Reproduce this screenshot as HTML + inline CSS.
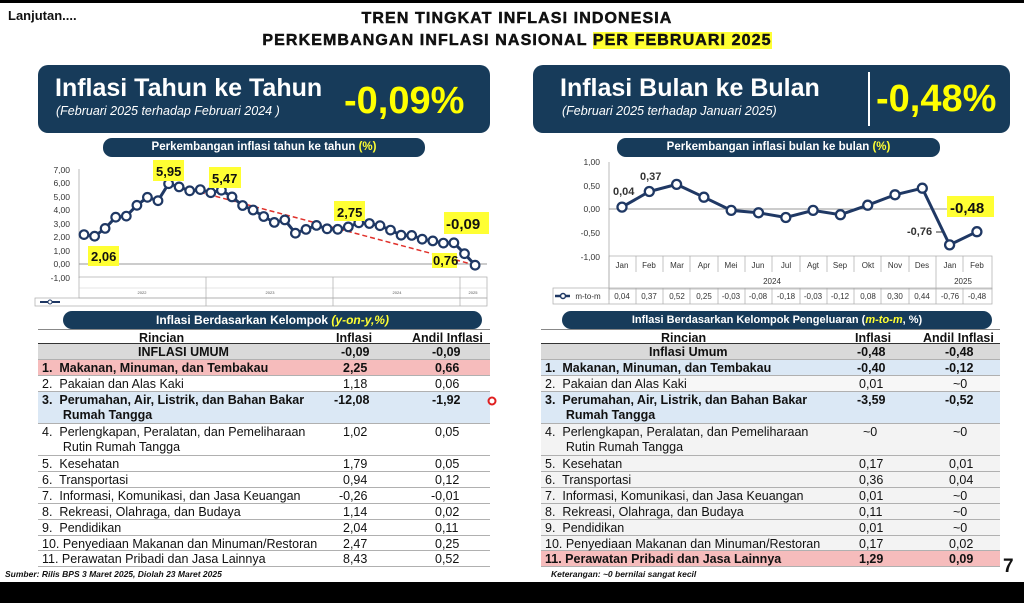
<!DOCTYPE html>
<html><head><meta charset="utf-8">
<style>
*{margin:0;padding:0;box-sizing:border-box}
body{width:1024px;height:603px;position:relative;background:#fff;font-family:"Liberation Sans",Arial,sans-serif;overflow:hidden;color:#111}
.a{position:absolute;white-space:nowrap}
.ban{position:absolute;background:#173b5a;border-radius:10px}
.pill{position:absolute;background:#173b5a;border-radius:9px;color:#fff;font-weight:bold;font-size:11.5px;text-align:center;line-height:19px}
.row{position:absolute;font-size:12.5px;line-height:15px;border-bottom:1px solid #b0b0b0}
.row span{position:absolute;top:1px}
.b{font-weight:bold}
</style></head><body>
<div class="a" style="left:0;top:0;width:1024px;height:3px;background:#000"></div>
<div class="a b" style="left:8px;top:8px;font-size:13px">Lanjutan....</div>
<div class="a b" style="left:0;width:1034px;text-align:center;top:10px;font-size:16px;letter-spacing:1.1px;-webkit-text-stroke:0.5px #111">TREN TINGKAT INFLASI INDONESIA</div>
<div class="a b" style="left:0;width:1034px;text-align:center;top:32px;font-size:16px;letter-spacing:1.1px;-webkit-text-stroke:0.5px #111">PERKEMBANGAN INFLASI NASIONAL <span style="background:#ffff33">PER FEBRUARI 2025</span></div>

<div class="ban" style="left:38px;top:65px;width:452px;height:68px"></div>
<div class="a b" style="left:55px;top:74px;font-size:25px;color:#fff">Inflasi Tahun ke Tahun</div>
<div class="a" style="left:56px;top:104px;font-size:12.5px;color:#fff;font-style:italic">(Februari 2025 terhadap Februari 2024 )</div>
<div class="a b" style="left:344px;top:80px;font-size:38px;color:#ffff00">-0,09%</div>

<div class="ban" style="left:533px;top:65px;width:477px;height:68px"></div>
<div class="a b" style="left:560px;top:74px;font-size:25px;color:#fff">Inflasi Bulan ke Bulan</div>
<div class="a" style="left:562px;top:104px;font-size:12.5px;color:#fff;font-style:italic">(Februari 2025 terhadap Januari 2025)</div>
<div class="a" style="left:868px;top:72px;width:2px;height:54px;background:#fff"></div>
<div class="a b" style="left:876px;top:78px;font-size:38px;color:#ffff00">-0,48%</div>

<div class="pill" style="left:103px;top:138px;width:322px;height:19px">Perkembangan inflasi tahun ke tahun <span style="color:#ffff33">(%)</span></div>
<div class="pill" style="left:617px;top:138px;width:323px;height:19px">Perkembangan inflasi bulan ke bulan <span style="color:#ffff33">(%)</span></div>

<svg class="a" style="left:0;top:0" width="1024" height="603" font-family="Liberation Sans, Arial, sans-serif">
 <g font-size="8.5" fill="#333" text-anchor="end">
  <text x="70" y="173">7,00</text><text x="70" y="186">6,00</text><text x="70" y="200">5,00</text><text x="70" y="213">4,00</text><text x="70" y="227">3,00</text><text x="70" y="240">2,00</text><text x="70" y="254">1,00</text><text x="70" y="267">0,00</text><text x="70" y="281">-1,00</text>
 </g>
 <line x1="79" y1="169" x2="79" y2="278" stroke="#bbb"/>
 <line x1="79" y1="264" x2="487" y2="264" stroke="#999"/>
 <rect x="79" y="277" width="408" height="21" fill="none" stroke="#aaa" stroke-width="0.7"/>
 <line x1="79" y1="288" x2="487" y2="288" stroke="#ccc" stroke-width="0.5"/>
 <rect x="35" y="298" width="452" height="8" fill="none" stroke="#aaa" stroke-width="0.7"/>
 <line x1="206" y1="277" x2="206" y2="306" stroke="#aaa" stroke-width="0.7"/>
 <line x1="333" y1="277" x2="333" y2="306" stroke="#aaa" stroke-width="0.7"/>
 <line x1="460" y1="277" x2="460" y2="306" stroke="#aaa" stroke-width="0.7"/>
 <g font-size="4" fill="#555" text-anchor="middle"><text x="142" y="294">2022</text><text x="270" y="294">2023</text><text x="397" y="294">2024</text><text x="473" y="294">2025</text></g>
 <line x1="40" y1="302" x2="60" y2="302" stroke="#1f3864" stroke-width="2"/><circle cx="50" cy="302" r="2" fill="#fff" stroke="#1f3864"/>
 <line x1="169" y1="184" x2="475" y2="265" stroke="#e0302a" stroke-width="1.5" stroke-dasharray="5,3"/>
 <polyline fill="none" stroke="#1f3864" stroke-width="3" points="84,234.6 94.6,236.2 105.1,228.4 115.7,217.2 126.3,216.1 136.9,205.3 147.4,197.3 158,200.7 168.6,183.7 179.1,186.9 189.7,190.8 200.3,189.6 210.8,192.7 221.4,190.2 232,196.9 242.6,205.5 253.1,210 263.7,216.5 274.3,222.4 284.8,219.9 295.4,233.2 306,229.4 316.5,225.4 327.1,228.8 337.7,229.3 348.3,226.9 358.8,222.8 369.4,223.5 380,225.7 390.5,230.1 401.1,235.2 411.7,235.4 422.2,239.2 432.8,240.9 443.4,243.1 453.9,242.8 464.5,253.7 475.1,265.2"/>
 <g fill="#fff" stroke="#1f3864" stroke-width="2.2">
  <circle cx="84" cy="234.6" r="4.3"/><circle cx="94.6" cy="236.2" r="4.3"/><circle cx="105.1" cy="228.4" r="4.3"/><circle cx="115.7" cy="217.2" r="4.3"/><circle cx="126.3" cy="216.1" r="4.3"/><circle cx="136.9" cy="205.3" r="4.3"/><circle cx="147.4" cy="197.3" r="4.3"/><circle cx="158" cy="200.7" r="4.3"/><circle cx="168.6" cy="183.7" r="4.3"/><circle cx="179.1" cy="186.9" r="4.3"/><circle cx="189.7" cy="190.8" r="4.3"/><circle cx="200.3" cy="189.6" r="4.3"/><circle cx="210.8" cy="192.7" r="4.3"/><circle cx="221.4" cy="190.2" r="4.3"/><circle cx="232" cy="196.9" r="4.3"/><circle cx="242.6" cy="205.5" r="4.3"/><circle cx="253.1" cy="210" r="4.3"/><circle cx="263.7" cy="216.5" r="4.3"/><circle cx="274.3" cy="222.4" r="4.3"/><circle cx="284.8" cy="219.9" r="4.3"/><circle cx="295.4" cy="233.2" r="4.3"/><circle cx="306" cy="229.4" r="4.3"/><circle cx="316.5" cy="225.4" r="4.3"/><circle cx="327.1" cy="228.8" r="4.3"/><circle cx="337.7" cy="229.3" r="4.3"/><circle cx="348.3" cy="226.9" r="4.3"/><circle cx="358.8" cy="222.8" r="4.3"/><circle cx="369.4" cy="223.5" r="4.3"/><circle cx="380" cy="225.7" r="4.3"/><circle cx="390.5" cy="230.1" r="4.3"/><circle cx="401.1" cy="235.2" r="4.3"/><circle cx="411.7" cy="235.4" r="4.3"/><circle cx="422.2" cy="239.2" r="4.3"/><circle cx="432.8" cy="240.9" r="4.3"/><circle cx="443.4" cy="243.1" r="4.3"/><circle cx="453.9" cy="242.8" r="4.3"/><circle cx="464.5" cy="253.7" r="4.3"/><circle cx="475.1" cy="265.2" r="4.3"/>
 </g>
 <g font-weight="bold" font-size="13" fill="#111">
  <rect x="88" y="246" width="31" height="20" fill="#ffff33"/><text x="91" y="261">2,06</text>
  <rect x="153" y="160" width="31" height="21" fill="#ffff33"/><text x="156" y="176">5,95</text>
  <rect x="209" y="167" width="32" height="21" fill="#ffff33"/><text x="212" y="183">5,47</text>
  <rect x="334" y="201" width="31" height="20" fill="#ffff33"/><text x="337" y="217">2,75</text>
  <rect x="432" y="253" width="25" height="15" fill="#ffff33"/><text x="433" y="265">0,76</text>
  <rect x="444" y="212" width="45" height="22" fill="#ffff33"/><text x="446" y="229" font-size="15">-0,09</text>
 </g>
 <g font-size="8.5" fill="#333" text-anchor="end">
  <text x="600" y="165">1,00</text><text x="600" y="189">0,50</text><text x="600" y="212">0,00</text><text x="600" y="236">-0,50</text><text x="600" y="260">-1,00</text>
 </g>
 <line x1="609" y1="162" x2="609" y2="300" stroke="#bbb"/>
 <line x1="609" y1="209" x2="992" y2="209" stroke="#999"/>
 <rect x="609" y="256" width="383" height="33" fill="none" stroke="#aaa" stroke-width="0.7"/>
 <rect x="553" y="288" width="439" height="16" fill="none" stroke="#aaa" stroke-width="0.7"/>
 <g stroke="#aaa" stroke-width="0.7">
  <line x1="636" y1="256" x2="636" y2="272"/><line x1="663" y1="256" x2="663" y2="272"/><line x1="690" y1="256" x2="690" y2="272"/><line x1="718" y1="256" x2="718" y2="272"/><line x1="745" y1="256" x2="745" y2="272"/><line x1="772" y1="256" x2="772" y2="272"/><line x1="800" y1="256" x2="800" y2="272"/><line x1="827" y1="256" x2="827" y2="272"/><line x1="854" y1="256" x2="854" y2="272"/><line x1="881" y1="256" x2="881" y2="272"/><line x1="909" y1="256" x2="909" y2="272"/><line x1="936" y1="256" x2="936" y2="304"/><line x1="963" y1="256" x2="963" y2="272"/>
  <line x1="609" y1="288" x2="609" y2="304"/><line x1="636" y1="288" x2="636" y2="304"/><line x1="663" y1="288" x2="663" y2="304"/><line x1="690" y1="288" x2="690" y2="304"/><line x1="718" y1="288" x2="718" y2="304"/><line x1="745" y1="288" x2="745" y2="304"/><line x1="772" y1="288" x2="772" y2="304"/><line x1="800" y1="288" x2="800" y2="304"/><line x1="827" y1="288" x2="827" y2="304"/><line x1="854" y1="288" x2="854" y2="304"/><line x1="881" y1="288" x2="881" y2="304"/><line x1="909" y1="288" x2="909" y2="304"/><line x1="963" y1="288" x2="963" y2="304"/>
 </g>
 <g font-size="8" fill="#333" text-anchor="middle">
  <text x="622" y="268">Jan</text><text x="649" y="268">Feb</text><text x="677" y="268">Mar</text><text x="704" y="268">Apr</text><text x="731" y="268">Mei</text><text x="758" y="268">Jun</text><text x="786" y="268">Jul</text><text x="813" y="268">Agt</text><text x="840" y="268">Sep</text><text x="868" y="268">Okt</text><text x="895" y="268">Nov</text><text x="922" y="268">Des</text><text x="950" y="268">Jan</text><text x="977" y="268">Feb</text>
  <text x="772" y="284">2024</text><text x="963" y="284">2025</text>
  <text x="622" y="299">0,04</text><text x="649" y="299">0,37</text><text x="677" y="299">0,52</text><text x="704" y="299">0,25</text><text x="731" y="299">-0,03</text><text x="758" y="299">-0,08</text><text x="786" y="299">-0,18</text><text x="813" y="299">-0,03</text><text x="840" y="299">-0,12</text><text x="868" y="299">0,08</text><text x="895" y="299">0,30</text><text x="922" y="299">0,44</text><text x="950" y="299">-0,76</text><text x="977" y="299">-0,48</text>
  <text x="588" y="299">m-to-m</text>
 </g>
 <line x1="555" y1="296" x2="570" y2="296" stroke="#1f3864" stroke-width="2.5"/><circle cx="563" cy="296" r="2.5" fill="#fff" stroke="#1f3864" stroke-width="1.5"/>
 <polyline fill="none" stroke="#1f3864" stroke-width="3" points="622,207.1 649.3,191.5 676.6,184.4 703.9,197.2 731.2,210.4 758.5,212.8 785.8,217.5 813.1,210.4 840.4,214.7 867.7,205.2 895,194.8 922.3,188.2 949.6,244.9 976.9,231.7"/>
 <g fill="#fff" stroke="#1f3864" stroke-width="2.3">
  <circle cx="622" cy="207.1" r="4.5"/><circle cx="649.3" cy="191.5" r="4.5"/><circle cx="676.6" cy="184.4" r="4.5"/><circle cx="703.9" cy="197.2" r="4.5"/><circle cx="731.2" cy="210.4" r="4.5"/><circle cx="758.5" cy="212.8" r="4.5"/><circle cx="785.8" cy="217.5" r="4.5"/><circle cx="813.1" cy="210.4" r="4.5"/><circle cx="840.4" cy="214.7" r="4.5"/><circle cx="867.7" cy="205.2" r="4.5"/><circle cx="895" cy="194.8" r="4.5"/><circle cx="922.3" cy="188.2" r="4.5"/><circle cx="949.6" cy="244.9" r="4.5"/><circle cx="976.9" cy="231.7" r="4.5"/>
 </g>
 <g font-weight="bold" font-size="11" fill="#333">
  <text x="613" y="195">0,04</text><text x="640" y="180">0,37</text><text x="907" y="235">-0,76</text>
 </g>
 <line x1="936" y1="232" x2="942" y2="232" stroke="#333"/>
 <rect x="947" y="196" width="47" height="21" fill="#ffff33"/>
 <text x="950" y="213" font-weight="bold" font-size="15" fill="#111">-0,48</text>
</svg>

<div class="pill" style="left:63px;top:311px;width:419px;height:18px;font-size:12px;line-height:18px">Inflasi Berdasarkan Kelompok <i style="color:#ffff33">(y-on-y,%)</i></div>
<div class="pill" style="left:562px;top:311px;width:430px;height:18px;font-size:11px;line-height:18px">Inflasi Berdasarkan Kelompok Pengeluaran (<i style="color:#ffff33">m-to-m</i>, %)</div>

<div class="a" style="left:38px;top:329px;width:452px;border-top:1px solid #888"></div>
<div class="row b" style="left:38px;top:330px;width:452px;height:14px;border-bottom:1px solid #333"><span style="left:101px;">Rincian</span><span style="left:298px">Inflasi</span><span style="left:374px">Andil Inflasi</span></div>
<div class="row b" style="left:38px;top:344px;width:452px;height:16px;background:#d9d9d9"><span style="left:100px">INFLASI UMUM</span><span style="left:303px">-0,09</span><span style="left:394px">-0,09</span></div>
<div class="row b" style="left:38px;top:360px;width:452px;height:16px;background:#f6bcbc"><span style="left:4px">1.&nbsp; Makanan, Minuman, dan Tembakau</span><span style="left:305px">2,25</span><span style="left:397px">0,66</span></div>
<div class="row" style="left:38px;top:376px;width:452px;height:16px"><span style="left:4px">2.&nbsp; Pakaian dan Alas Kaki</span><span style="left:305px">1,18</span><span style="left:397px">0,06</span></div>
<div class="row b" style="left:38px;top:392px;width:452px;height:32px;background:#dbe8f5"><span style="left:4px">3.&nbsp; Perumahan, Air, Listrik, dan Bahan Bakar<br>&nbsp;&nbsp;&nbsp;&nbsp;&nbsp; Rumah Tangga</span><span style="left:296px">-12,08</span><span style="left:394px">-1,92</span></div>
<div class="row" style="left:38px;top:424px;width:452px;height:32px"><span style="left:4px">4.&nbsp; Perlengkapan, Peralatan, dan Pemeliharaan<br>&nbsp;&nbsp;&nbsp;&nbsp;&nbsp; Rutin Rumah Tangga</span><span style="left:305px">1,02</span><span style="left:397px">0,05</span></div>
<div class="row" style="left:38px;top:456px;width:452px;height:16px"><span style="left:4px">5.&nbsp; Kesehatan</span><span style="left:305px">1,79</span><span style="left:397px">0,05</span></div>
<div class="row" style="left:38px;top:472px;width:452px;height:16px"><span style="left:4px">6.&nbsp; Transportasi</span><span style="left:305px">0,94</span><span style="left:397px">0,12</span></div>
<div class="row" style="left:38px;top:488px;width:452px;height:16px"><span style="left:4px">7.&nbsp; Informasi, Komunikasi, dan Jasa Keuangan</span><span style="left:301px">-0,26</span><span style="left:393px">-0,01</span></div>
<div class="row" style="left:38px;top:504px;width:452px;height:16px"><span style="left:4px">8.&nbsp; Rekreasi, Olahraga, dan Budaya</span><span style="left:305px">1,14</span><span style="left:397px">0,02</span></div>
<div class="row" style="left:38px;top:520px;width:452px;height:16px"><span style="left:4px">9.&nbsp; Pendidikan</span><span style="left:305px">2,04</span><span style="left:397px">0,11</span></div>
<div class="row" style="left:38px;top:536px;width:452px;height:15px"><span style="left:4px">10. Penyediaan Makanan dan Minuman/Restoran</span><span style="left:305px">2,47</span><span style="left:397px">0,25</span></div>
<div class="row" style="left:38px;top:551px;width:452px;height:16px"><span style="left:4px">11. Perawatan Pribadi dan Jasa Lainnya</span><span style="left:305px">8,43</span><span style="left:397px">0,52</span></div>
<div class="a b" style="left:5px;top:569px;font-size:8.5px;font-style:italic">Sumber: Rilis BPS 3 Maret 2025, Diolah 23 Maret 2025</div>

<div class="a" style="left:541px;top:329px;width:459px;border-top:1px solid #888"></div>
<div class="row b" style="left:541px;top:330px;width:459px;height:14px;border-bottom:1px solid #333"><span style="left:120px">Rincian</span><span style="left:314px">Inflasi</span><span style="left:382px">Andil Inflasi</span></div>
<div class="row b" style="left:541px;top:344px;width:459px;height:16px;background:#d9d9d9"><span style="left:108px">Inflasi Umum</span><span style="left:316px">-0,48</span><span style="left:404px">-0,48</span></div>
<div class="row b" style="left:541px;top:360px;width:459px;height:16px;background:#dbe8f5"><span style="left:4px">1.&nbsp; Makanan, Minuman, dan Tembakau</span><span style="left:316px">-0,40</span><span style="left:404px">-0,12</span></div>
<div class="row" style="left:541px;top:376px;width:459px;height:16px;background:#f7f7f7"><span style="left:4px">2.&nbsp; Pakaian dan Alas Kaki</span><span style="left:318px">0,01</span><span style="left:412px">~0</span></div>
<div class="row b" style="left:541px;top:392px;width:459px;height:32px;background:#dbe8f5"><span style="left:4px">3.&nbsp; Perumahan, Air, Listrik, dan Bahan Bakar<br>&nbsp;&nbsp;&nbsp;&nbsp;&nbsp; Rumah Tangga</span><span style="left:316px">-3,59</span><span style="left:404px">-0,52</span></div>
<div class="row" style="left:541px;top:424px;width:459px;height:32px;background:#f3f3f3"><span style="left:4px">4.&nbsp; Perlengkapan, Peralatan, dan Pemeliharaan<br>&nbsp;&nbsp;&nbsp;&nbsp;&nbsp; Rutin Rumah Tangga</span><span style="left:322px">~0</span><span style="left:412px">~0</span></div>
<div class="row" style="left:541px;top:456px;width:459px;height:16px;background:#f3f3f3"><span style="left:4px">5.&nbsp; Kesehatan</span><span style="left:318px">0,17</span><span style="left:408px">0,01</span></div>
<div class="row" style="left:541px;top:472px;width:459px;height:16px;background:#f3f3f3"><span style="left:4px">6.&nbsp; Transportasi</span><span style="left:318px">0,36</span><span style="left:408px">0,04</span></div>
<div class="row" style="left:541px;top:488px;width:459px;height:16px;background:#f3f3f3"><span style="left:4px">7.&nbsp; Informasi, Komunikasi, dan Jasa Keuangan</span><span style="left:318px">0,01</span><span style="left:412px">~0</span></div>
<div class="row" style="left:541px;top:504px;width:459px;height:16px;background:#f3f3f3"><span style="left:4px">8.&nbsp; Rekreasi, Olahraga, dan Budaya</span><span style="left:318px">0,11</span><span style="left:412px">~0</span></div>
<div class="row" style="left:541px;top:520px;width:459px;height:16px;background:#f3f3f3"><span style="left:4px">9.&nbsp; Pendidikan</span><span style="left:318px">0,01</span><span style="left:412px">~0</span></div>
<div class="row" style="left:541px;top:536px;width:459px;height:15px;background:#f3f3f3"><span style="left:4px">10. Penyediaan Makanan dan Minuman/Restoran</span><span style="left:318px">0,17</span><span style="left:408px">0,02</span></div>
<div class="row b" style="left:541px;top:551px;width:459px;height:16px;background:#f6bcbc"><span style="left:4px">11. Perawatan Pribadi dan Jasa Lainnya</span><span style="left:318px">1,29</span><span style="left:408px">0,09</span></div>
<div class="a b" style="left:551px;top:569px;font-size:8.5px;font-style:italic">Keterangan: ~0 bernilai sangat kecil</div>
<div class="a b" style="left:1003px;top:556px;font-size:19px">7</div>
<svg class="a" style="left:486px;top:395px" width="12" height="12"><circle cx="6" cy="6" r="3.5" fill="none" stroke="#e02020" stroke-width="2"/></svg>

<div class="a" style="left:0;top:582px;width:1024px;height:21px;background:#000"></div>
</body></html>
